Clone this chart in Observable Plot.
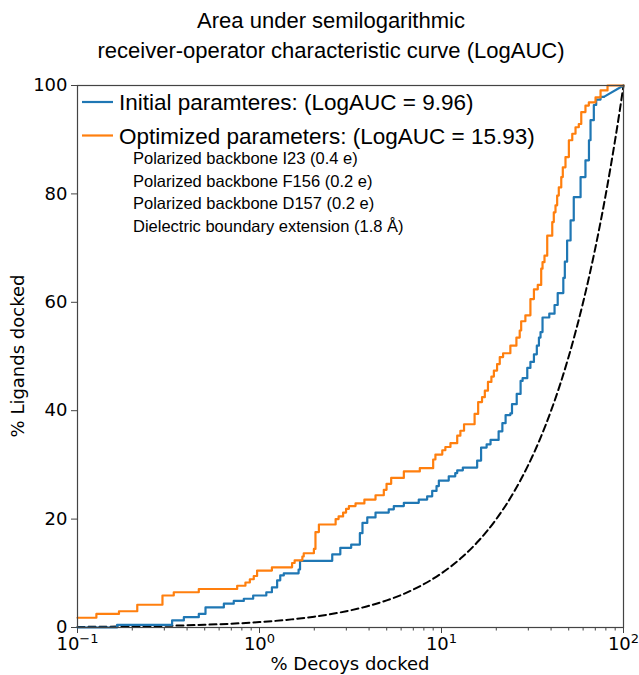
<!DOCTYPE html>
<html><head><meta charset="utf-8">
<script src="https://cdn.jsdelivr.net/npm/d3@7"></script>
<script src="https://cdn.jsdelivr.net/npm/@observablehq/plot@0.6"></script>
<style>
body{margin:0;background:#fff;}
#chart svg{overflow:visible;}
</style>
</head><body><div id="chart"></div>
<script>
// ---- text ----
const titleLines = ["Area under semilogarithmic", "receiver-operator characteristic curve (LogAUC)"];
const xLabel = "% Decoys docked";
const yLabel = "% Ligands docked";
const seriesNames = ["Initial paramteres: (LogAUC = 9.96)", "Optimized parameters: (LogAUC = 15.93)"];
const seriesColors = ["#1f77b4", "#ff7f0e"];
const legendNotes = ["Polarized backbone I23 (0.4 e)", "Polarized backbone F156 (0.2 e)", "Polarized backbone D157 (0.2 e)", "Dielectric boundary extension (1.8 Å)"];

// ---- ticks ----
const xMajorTicks = [0.1, 1, 10, 100];
const xMinorTicks = [0.2,0.3,0.4,0.5,0.6,0.7,0.8,0.9, 2,3,4,5,6,7,8,9, 20,30,40,50,60,70,80,90];
const yTicks = [0, 20, 40, 60, 80, 100];

// ---- initial parameters (blue), step-after vertices ----
const initialX = [0.1,0.165,0.331,0.384,0.464,0.505,0.637,0.722,0.82,0.923,1.09,1.17,1.25,1.30,1.36,1.64,1.67,2.51,2.78,3.19,3.56,3.68,3.91,4.34,5.13,5.47,6.21,7.5,8.34,8.89,9.39,9.67,10.96,11.9,12.2,13.1,15.7,16.5,17.7,18.6,20.6,21.6,22.5,23.9,24.4,25.9,27.2,27.9,29.6,30.8,32.2,33.4,34.3,35.0,35.9,39.1,41.8,43.5,46.7,47.6,49.0,51.2,53.3,58.1,61.8,64.6,65.9,68.7,70.8,74.8,78.0];
const initialY = [0,0.5,1.3,1.9,2.5,3.7,4.4,4.9,5.3,5.9,6.5,7.4,8.7,9.6,10.0,10.7,12.3,13.5,14.7,15.3,17.4,19.3,20.3,21.2,21.8,22.4,23.0,23.6,24.2,25.2,26.1,27.1,27.9,28.5,29.0,29.5,30.8,33.2,33.8,34.6,36.2,37.7,39.2,39.5,41.2,43.1,45.5,46.0,47.9,49.0,50.4,52.0,53.5,54.5,57.2,57.9,59.5,61.7,64.5,67.5,71.4,75.1,79.4,83.1,86.2,89.9,93.6,96.4,97.4,97.9,97.9];
// final straight segment of the blue curve
const initialTailX = [78.0, 100];
const initialTailY = [97.9, 100];

// ---- optimized parameters (orange), step-after vertices ----
const optimizedX = [0.1,0.127,0.169,0.213,0.293,0.338,0.464,0.754,0.837,0.885,0.93,0.97,1.17,1.51,1.56,1.72,1.75,1.99,2.03,2.12,2.62,2.72,2.88,2.99,3.1,3.37,3.77,4.34,4.82,4.99,5.29,6.21,7.6,9.0,9.26,10.1,10.5,11.2,12.2,12.7,13.3,15.2,15.9,16.7,17.3,18.0,18.8,19.4,20.2,20.9,21.8,23.9,25.8,26.9,27.4,28.9,30.8,32.2,33.8,35.3,35.9,36.8,38.1,40.6,41.4,42.3,43.2,44.1,45.5,46.4,48.0,50.1,52.3,54.5,56.8,58.6,61.8,64.5,70.2,74.8,81.7,100];
const optimizedY = [1.8,2.5,3.0,4.2,5.9,6.5,7.1,7.7,8.3,8.9,9.5,10.5,11.1,11.9,12.4,13.1,13.7,14.5,17.6,19.0,20.0,20.5,21.2,21.9,22.4,22.9,23.6,24.4,25.4,26.5,27.6,28.8,29.4,31.0,31.9,32.7,33.3,34.0,35.4,36.3,37.5,39.4,41.6,42.5,43.7,45.3,46.3,47.4,48.6,49.9,50.6,52.0,53.5,54.8,56.5,57.6,60.6,62.4,63.2,66.2,67.4,68.6,72.3,74.8,76.6,77.9,79.7,81.2,83.1,84.9,86.8,89.9,91.1,92.3,92.9,95.1,96.3,96.9,97.8,99.1,100,100];

// ---- random selection (dashed) ----
const randomX = [0.1,0.2,0.3,0.5,0.7,1,1.5,2,3,4,5,7,10,13,16,20,25,30,35,40,45,50,55,60,65,70,75,80,85,90,95,100];
const randomY = [0.1,0.2,0.3,0.5,0.7,1,1.5,2,3,4,5,7,10,13,16,20,25,30,35,40,45,50,55,60,65,70,75,80,85,90,95,100];

const toRows = (xs, ys) => xs.map((x, i) => ({x, y: ys[i]}));
const initial = toRows(initialX, initialY);
const initialTail = toRows(initialTailX, initialTailY);
const optimized = toRows(optimizedX, optimizedY);
const random = toRows(randomX, randomY);

const W = 639, H = 675, mL = 77, mR = 16, mT = 85, mB = 48;
const tickFont = "DejaVu Sans, sans-serif";
const textFont = "Liberation Sans, Arial, sans-serif";

const chart = Plot.plot({
  width: W, height: H,
  marginLeft: mL, marginRight: mR, marginTop: mT, marginBottom: mB,
  style: {fontFamily: tickFont, color: "#000", background: "#fff"},
  x: {type: "log", domain: [0.1, 100]},
  y: {domain: [0, 100]},
  marks: [
    Plot.axisX({ticks: xMinorTicks, tickSize: 3.5, text: null, label: null, stroke: "#444"}),
    Plot.axisX({ticks: xMajorTicks, tickSize: 6, tickPadding: 4, label: null, stroke: "#444", fill: "#000", fontSize: 18,
      tickFormat: d => "10|" + Math.round(Math.log10(d))}),
    Plot.axisY({ticks: yTicks, tickSize: 6, tickPadding: 4, label: null, stroke: "#444", fill: "#000", fontSize: 18}),
    Plot.line(random, {x: "x", y: "y", stroke: "#000", strokeWidth: 2, strokeDasharray: "7,4", curve: "monotone-x"}),
    Plot.line(initial, {x: "x", y: "y", stroke: seriesColors[0], strokeWidth: 2.2, curve: "step-after"}),
    Plot.line(initialTail, {x: "x", y: "y", stroke: seriesColors[0], strokeWidth: 2.2}),
    Plot.line(optimized, {x: "x", y: "y", stroke: seriesColors[1], strokeWidth: 2.2, curve: "step-after"}),
    Plot.frame({stroke: "#444", strokeWidth: 1.2})
  ]
});
document.getElementById("chart").appendChild(chart);

// superscript tick labels
d3.select(chart).selectAll('g[aria-label="x-axis tick label"] text').each(function() {
  const t = d3.select(this);
  const raw = t.text();
  if (!raw.includes("|")) return;
  const [base, exp] = raw.split("|");
  t.text(null);
  t.append("tspan").text(base);
  t.append("tspan").attr("font-size", 13).attr("dy", "-0.55em").text(exp.replace("-", "\u2212"));
});

const svg = d3.select(chart);
// title
svg.append("g").attr("font-family", textFont).attr("font-size", 22).attr("text-anchor", "middle")
  .selectAll("text").data(titleLines).join("text")
  .attr("x", 331).attr("y", (d, i) => 28 + i * 30).text(d => d);
// axis labels
svg.append("text").attr("font-family", tickFont).attr("font-size", 18).attr("text-anchor", "middle")
  .attr("x", (mL + W - mR) / 2).attr("y", 670).text(xLabel);
svg.append("text").attr("font-family", tickFont).attr("font-size", 18).attr("text-anchor", "middle")
  .attr("transform", `translate(24,${(mT + H - mB) / 2}) rotate(-90)`).text(yLabel);
// legend
const lg = svg.append("g").attr("font-family", textFont).attr("text-anchor", "start");
seriesNames.forEach((name, i) => {
  const cy = 102 + i * 33.5;
  lg.append("line").attr("x1", 82).attr("x2", 113).attr("y1", cy).attr("y2", cy)
    .attr("stroke", seriesColors[i]).attr("stroke-width", 2.2);
  lg.append("text").attr("x", 119).attr("y", cy + 8).attr("font-size", 22.5).text(name);
});
legendNotes.forEach((note, i) => {
  lg.append("text").attr("x", 133).attr("y", 164 + i * 22.6).attr("font-size", 16.5).text(note);
});
</script>
</body></html>
